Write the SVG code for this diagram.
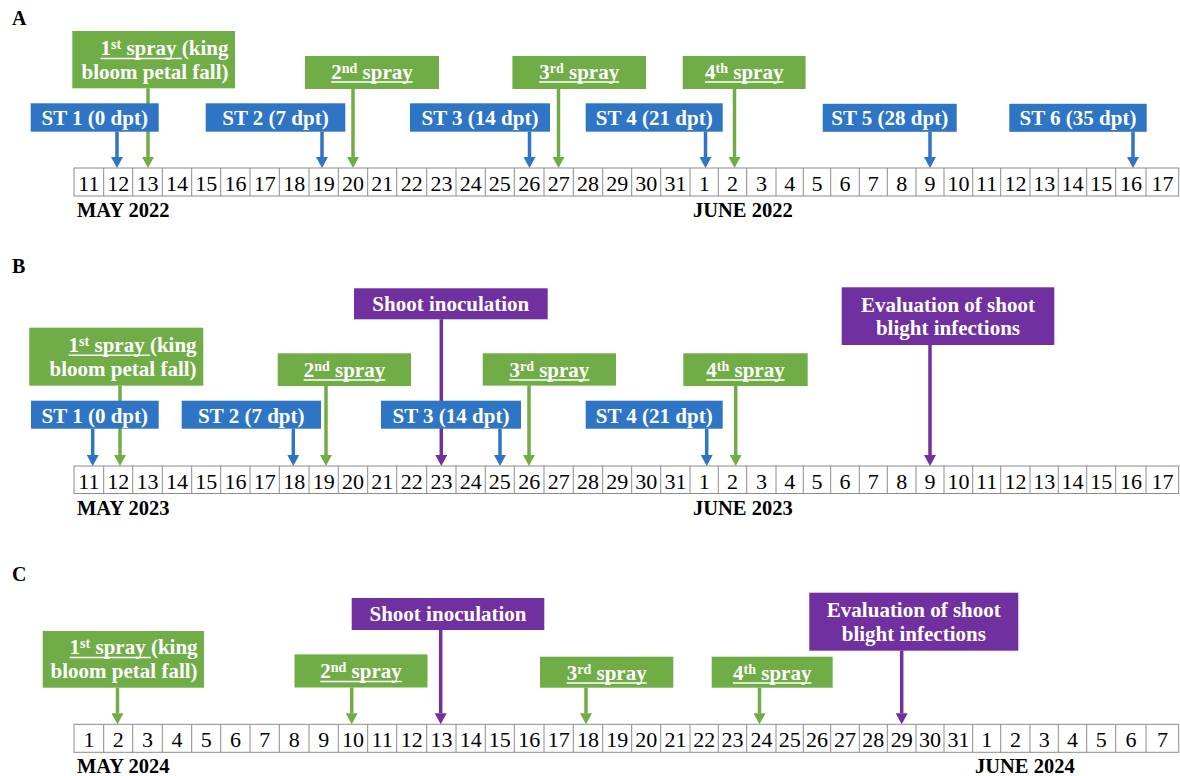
<svg xmlns="http://www.w3.org/2000/svg" width="1180" height="776" viewBox="0 0 1180 776">
<style>
.g{fill:#70AD47}.b{fill:#2E75C5}.p{fill:#7030A0}
.t{font-family:"Liberation Serif","Times New Roman",serif;font-weight:bold;font-size:21px;fill:#fff}
.sup{font-size:14px}
.ul{stroke:#fff;stroke-width:1.5}
.cg{stroke:#70AD47;stroke-width:3.5}.cb{stroke:#2E75C5;stroke-width:3.5}.cp{stroke:#7030A0;stroke-width:3.5}
.row{fill:#fff;stroke:#8c8c8c;stroke-width:1}
.grid{fill:none;stroke:#8c8c8c;stroke-width:1}
.num{font-family:"Liberation Serif","Times New Roman",serif;font-size:22px;fill:#000;text-anchor:middle}
.mon{font-family:"Liberation Serif","Times New Roman",serif;font-weight:bold;font-size:20.5px;fill:#000}
.pl{font-family:"Liberation Serif","Times New Roman",serif;font-weight:bold;font-size:20px;fill:#000}
</style>
<defs>
<marker id="ag" viewBox="0 0 11 12" refX="0" refY="6" markerWidth="11" markerHeight="12" markerUnits="userSpaceOnUse" orient="auto"><path d="M0,0 L11,6 L0,12 z" fill="#70AD47"/></marker>
<marker id="ab" viewBox="0 0 11 12" refX="0" refY="6" markerWidth="11" markerHeight="12" markerUnits="userSpaceOnUse" orient="auto"><path d="M0,0 L11,6 L0,12 z" fill="#2E75C5"/></marker>
<marker id="ap" viewBox="0 0 11 12" refX="0" refY="6" markerWidth="11" markerHeight="12" markerUnits="userSpaceOnUse" orient="auto"><path d="M0,0 L11,6 L0,12 z" fill="#7030A0"/></marker>
</defs>
<rect width="1180" height="776" fill="#fff"/>

<!-- panel labels -->
<text class="pl" x="12" y="25">A</text>
<text class="pl" x="12" y="273">B</text>
<text class="pl" x="12" y="581">C</text>

<!-- timeline rows -->
<g id="rowA">
<rect class="row" x="74" y="168" width="1104.7" height="28"/>
<path class="grid" d="M103.7 168V196M132.7 168V196M162.3 168V196M191.7 168V196M220.7 168V196M250 168V196M279.3 168V196M309 168V196M338.3 168V196M367.7 168V196M396.7 168V196M426.7 168V196M456 168V196M485.3 168V196M514.3 168V196M544 168V196M573.3 168V196M602.7 168V196M631.7 168V196M660.7 168V196M690 168V196M718.3 168V196M746.7 168V196M776 168V196M803.3 168V196M830.7 168V196M859.3 168V196M887.3 168V196M916 168V196M944 168V196M972.7 168V196M1000.7 168V196M1030 168V196M1058.3 168V196M1086.7 168V196M1115.7 168V196M1146 168V196"/>
<g class="num">
<text x="88.9" y="190.7">11</text><text x="118.2" y="190.7">12</text><text x="147.5" y="190.7">13</text><text x="177" y="190.7">14</text><text x="206.2" y="190.7">15</text><text x="235.4" y="190.7">16</text><text x="264.7" y="190.7">17</text><text x="294.2" y="190.7">18</text><text x="323.7" y="190.7">19</text><text x="353" y="190.7">20</text><text x="382.2" y="190.7">21</text><text x="411.7" y="190.7">22</text><text x="441.4" y="190.7">23</text><text x="470.7" y="190.7">24</text><text x="499.8" y="190.7">25</text><text x="529.2" y="190.7">26</text><text x="558.7" y="190.7">27</text><text x="588" y="190.7">28</text><text x="617.2" y="190.7">29</text><text x="646.2" y="190.7">30</text><text x="675.4" y="190.7">31</text><text x="704.2" y="190.7">1</text><text x="732.5" y="190.7">2</text><text x="761.4" y="190.7">3</text><text x="789.7" y="190.7">4</text><text x="817" y="190.7">5</text><text x="845" y="190.7">6</text><text x="873.3" y="190.7">7</text><text x="901.7" y="190.7">8</text><text x="930" y="190.7">9</text><text x="958.4" y="190.7">10</text><text x="986.7" y="190.7">11</text><text x="1015.4" y="190.7">12</text><text x="1044.2" y="190.7">13</text><text x="1072.5" y="190.7">14</text><text x="1101.2" y="190.7">15</text><text x="1130.9" y="190.7">16</text><text x="1162.4" y="190.7">17</text>
</g>
<text class="mon" x="77" y="217">MAY 2022</text>
<text class="mon" x="693" y="217">JUNE 2022</text>
</g>

<g id="rowB">
<rect class="row" x="74" y="466" width="1104.7" height="27.5"/>
<path class="grid" d="M103.7 466V493.5M132.7 466V493.5M162.3 466V493.5M191.7 466V493.5M220.7 466V493.5M250 466V493.5M279.3 466V493.5M309 466V493.5M338.3 466V493.5M367.7 466V493.5M396.7 466V493.5M426.7 466V493.5M456 466V493.5M485.3 466V493.5M514.3 466V493.5M544 466V493.5M573.3 466V493.5M602.7 466V493.5M631.7 466V493.5M660.7 466V493.5M690 466V493.5M718.3 466V493.5M746.7 466V493.5M776 466V493.5M803.3 466V493.5M830.7 466V493.5M859.3 466V493.5M887.3 466V493.5M916 466V493.5M944 466V493.5M972.7 466V493.5M1000.7 466V493.5M1030 466V493.5M1058.3 466V493.5M1086.7 466V493.5M1115.7 466V493.5M1146 466V493.5"/>
<g class="num">
<text x="88.9" y="488.5">11</text><text x="118.2" y="488.5">12</text><text x="147.5" y="488.5">13</text><text x="177" y="488.5">14</text><text x="206.2" y="488.5">15</text><text x="235.4" y="488.5">16</text><text x="264.7" y="488.5">17</text><text x="294.2" y="488.5">18</text><text x="323.7" y="488.5">19</text><text x="353" y="488.5">20</text><text x="382.2" y="488.5">21</text><text x="411.7" y="488.5">22</text><text x="441.4" y="488.5">23</text><text x="470.7" y="488.5">24</text><text x="499.8" y="488.5">25</text><text x="529.2" y="488.5">26</text><text x="558.7" y="488.5">27</text><text x="588" y="488.5">28</text><text x="617.2" y="488.5">29</text><text x="646.2" y="488.5">30</text><text x="675.4" y="488.5">31</text><text x="704.2" y="488.5">1</text><text x="732.5" y="488.5">2</text><text x="761.4" y="488.5">3</text><text x="789.7" y="488.5">4</text><text x="817" y="488.5">5</text><text x="845" y="488.5">6</text><text x="873.3" y="488.5">7</text><text x="901.7" y="488.5">8</text><text x="930" y="488.5">9</text><text x="958.4" y="488.5">10</text><text x="986.7" y="488.5">11</text><text x="1015.4" y="488.5">12</text><text x="1044.2" y="488.5">13</text><text x="1072.5" y="488.5">14</text><text x="1101.2" y="488.5">15</text><text x="1130.9" y="488.5">16</text><text x="1162.4" y="488.5">17</text>
</g>
<text class="mon" x="77" y="514.5">MAY 2023</text>
<text class="mon" x="693" y="514.5">JUNE 2023</text>
</g>

<g id="rowC">
<rect class="row" x="74" y="724.3" width="1104.7" height="28"/>
<path class="grid" d="M103.7 724.3V752.3M132.7 724.3V752.3M162.3 724.3V752.3M191.7 724.3V752.3M220.7 724.3V752.3M250 724.3V752.3M279.3 724.3V752.3M309 724.3V752.3M338.3 724.3V752.3M367.7 724.3V752.3M396.7 724.3V752.3M426.7 724.3V752.3M456 724.3V752.3M485.3 724.3V752.3M514.3 724.3V752.3M544 724.3V752.3M573.3 724.3V752.3M602.7 724.3V752.3M631.7 724.3V752.3M660.7 724.3V752.3M690 724.3V752.3M718.3 724.3V752.3M746.7 724.3V752.3M776 724.3V752.3M803.3 724.3V752.3M830.7 724.3V752.3M859.3 724.3V752.3M887.3 724.3V752.3M916 724.3V752.3M944 724.3V752.3M972.7 724.3V752.3M1000.7 724.3V752.3M1030 724.3V752.3M1058.3 724.3V752.3M1086.7 724.3V752.3M1115.7 724.3V752.3M1146 724.3V752.3"/>
<g class="num">
<text x="88.9" y="747">1</text><text x="118.2" y="747">2</text><text x="147.5" y="747">3</text><text x="177" y="747">4</text><text x="206.2" y="747">5</text><text x="235.4" y="747">6</text><text x="264.7" y="747">7</text><text x="294.2" y="747">8</text><text x="323.7" y="747">9</text><text x="353" y="747">10</text><text x="382.2" y="747">11</text><text x="411.7" y="747">12</text><text x="441.4" y="747">13</text><text x="470.7" y="747">14</text><text x="499.8" y="747">15</text><text x="529.2" y="747">16</text><text x="558.7" y="747">17</text><text x="588" y="747">18</text><text x="617.2" y="747">19</text><text x="646.2" y="747">20</text><text x="675.4" y="747">21</text><text x="704.2" y="747">22</text><text x="732.5" y="747">23</text><text x="761.4" y="747">24</text><text x="789.7" y="747">25</text><text x="817" y="747">26</text><text x="845" y="747">27</text><text x="873.3" y="747">28</text><text x="901.7" y="747">29</text><text x="930" y="747">30</text><text x="958.4" y="747">31</text><text x="986.7" y="747">1</text><text x="1015.4" y="747">2</text><text x="1044.2" y="747">3</text><text x="1072.5" y="747">4</text><text x="1101.2" y="747">5</text><text x="1130.9" y="747">6</text><text x="1162.4" y="747">7</text>
</g>
<text class="mon" x="77" y="773">MAY 2024</text>
<text class="mon" x="975" y="773">JUNE 2024</text>
</g>

<!-- connectors -->
<g id="connectors">
<line class="cb" x1="117" y1="131.7" x2="117" y2="157" marker-end="url(#ab)"/>
<line class="cg" x1="148" y1="88.3" x2="148" y2="157" marker-end="url(#ag)"/>
<line class="cb" x1="322" y1="131.7" x2="322" y2="157" marker-end="url(#ab)"/>
<line class="cg" x1="353" y1="89" x2="353" y2="157" marker-end="url(#ag)"/>
<line class="cb" x1="529.5" y1="131.7" x2="529.5" y2="157" marker-end="url(#ab)"/>
<line class="cg" x1="558.5" y1="89" x2="558.5" y2="157" marker-end="url(#ag)"/>
<line class="cb" x1="705.5" y1="131.7" x2="705.5" y2="157" marker-end="url(#ab)"/>
<line class="cg" x1="734.5" y1="89" x2="734.5" y2="157" marker-end="url(#ag)"/>
<line class="cb" x1="930" y1="131.7" x2="930" y2="157" marker-end="url(#ab)"/>
<line class="cb" x1="1133" y1="131.7" x2="1133" y2="157" marker-end="url(#ab)"/>

<line class="cb" x1="92.7" y1="428.7" x2="92.7" y2="455" marker-end="url(#ab)"/>
<line class="cg" x1="120" y1="385.7" x2="120" y2="455" marker-end="url(#ag)"/>
<line class="cb" x1="293.3" y1="428.7" x2="293.3" y2="455" marker-end="url(#ab)"/>
<line class="cg" x1="326" y1="386" x2="326" y2="455" marker-end="url(#ag)"/>
<line class="cp" x1="441.3" y1="319.3" x2="441.3" y2="455" marker-end="url(#ap)"/>
<line class="cb" x1="500" y1="428.7" x2="500" y2="455" marker-end="url(#ab)"/>
<line class="cg" x1="529" y1="385.3" x2="529" y2="455" marker-end="url(#ag)"/>
<line class="cb" x1="706.7" y1="428.7" x2="706.7" y2="455" marker-end="url(#ab)"/>
<line class="cg" x1="735.7" y1="386" x2="735.7" y2="455" marker-end="url(#ag)"/>
<line class="cp" x1="930" y1="345" x2="930" y2="455" marker-end="url(#ap)"/>

<line class="cg" x1="117.5" y1="687.7" x2="117.5" y2="713.3" marker-end="url(#ag)"/>
<line class="cg" x1="351.7" y1="687.5" x2="351.7" y2="713.3" marker-end="url(#ag)"/>
<line class="cp" x1="440.7" y1="630" x2="440.7" y2="713.3" marker-end="url(#ap)"/>
<line class="cg" x1="586" y1="687.7" x2="586" y2="713.3" marker-end="url(#ag)"/>
<line class="cg" x1="759.5" y1="687.7" x2="759.5" y2="713.3" marker-end="url(#ag)"/>
<line class="cp" x1="901.7" y1="650.7" x2="901.7" y2="713.3" marker-end="url(#ap)"/>
</g>

<!-- Panel A nodes -->
<g id="A_spray1">
<rect class="g" x="72.3" y="31" width="162.7" height="57.3"/>
<text class="t" x="228.5" y="55" text-anchor="end">1<tspan class="sup" dy="-6">st</tspan><tspan dy="6"> spray (king</tspan></text>
<text class="t" x="228.5" y="78.5" text-anchor="end">bloom petal fall)</text>
<line class="ul" x1="100.6" y1="58.5" x2="181.8" y2="58.5"/>
</g>
<g id="A_spray2">
<rect class="g" x="305" y="56" width="134" height="33"/>
<text class="t" x="372" y="78.5" text-anchor="middle">2<tspan class="sup" dy="-6">nd</tspan><tspan dy="6"> spray</tspan></text>
<line class="ul" x1="331.2" y1="82" x2="412.8" y2="82"/>
</g>
<g id="A_spray3">
<rect class="g" x="512.4" y="56" width="133.6" height="33"/>
<text class="t" x="579.2" y="78.5" text-anchor="middle">3<tspan class="sup" dy="-6">rd</tspan><tspan dy="6"> spray</tspan></text>
<line class="ul" x1="539.2" y1="82" x2="619.2" y2="82"/>
</g>
<g id="A_spray4">
<rect class="g" x="682.7" y="56" width="122.9" height="33"/>
<text class="t" x="744.2" y="78.5" text-anchor="middle">4<tspan class="sup" dy="-6">th</tspan><tspan dy="6"> spray</tspan></text>
<line class="ul" x1="705" y1="82" x2="783.4" y2="82"/>
</g>
<g id="A_st1"><rect class="b" x="30.7" y="103.3" width="128" height="28.4"/><text class="t" x="94.7" y="125" text-anchor="middle">ST 1 (0 dpt)</text></g>
<g id="A_st2"><rect class="b" x="205.7" y="103.3" width="139.6" height="28.4"/><text class="t" x="275.5" y="125" text-anchor="middle">ST 2 (7 dpt)</text></g>
<g id="A_st3"><rect class="b" x="410" y="103.3" width="140" height="28.4"/><text class="t" x="480" y="125" text-anchor="middle">ST 3 (14 dpt)</text></g>
<g id="A_st4"><rect class="b" x="585.7" y="103.3" width="137" height="28.4"/><text class="t" x="654.2" y="125" text-anchor="middle">ST 4 (21 dpt)</text></g>
<g id="A_st5"><rect class="b" x="822.7" y="103.8" width="134" height="28"/><text class="t" x="889.7" y="125.3" text-anchor="middle">ST 5 (28 dpt)</text></g>
<g id="A_st6"><rect class="b" x="1009.3" y="103.8" width="137.4" height="28"/><text class="t" x="1078" y="125.3" text-anchor="middle">ST 6 (35 dpt)</text></g>

<!-- Panel B nodes -->
<g id="B_spray1">
<rect class="g" x="29.3" y="327.7" width="174" height="58"/>
<text class="t" x="196.6" y="351.7" text-anchor="end">1<tspan class="sup" dy="-6">st</tspan><tspan dy="6"> spray (king</tspan></text>
<text class="t" x="196.6" y="375.7" text-anchor="end">bloom petal fall)</text>
<line class="ul" x1="68.7" y1="355.2" x2="149.9" y2="355.2"/>
</g>
<g id="B_spray2">
<rect class="g" x="277.7" y="353.3" width="133.3" height="32.7"/>
<text class="t" x="344.4" y="376.5" text-anchor="middle">2<tspan class="sup" dy="-6">nd</tspan><tspan dy="6"> spray</tspan></text>
<line class="ul" x1="303.6" y1="380" x2="385.2" y2="380"/>
</g>
<g id="B_spray3">
<rect class="g" x="482.7" y="353.3" width="133.3" height="32.3"/>
<text class="t" x="549.4" y="376.5" text-anchor="middle">3<tspan class="sup" dy="-6">rd</tspan><tspan dy="6"> spray</tspan></text>
<line class="ul" x1="509.4" y1="380" x2="589.4" y2="380"/>
</g>
<g id="B_spray4">
<rect class="g" x="683.3" y="353.3" width="124.4" height="32.7"/>
<text class="t" x="745.5" y="376.5" text-anchor="middle">4<tspan class="sup" dy="-6">th</tspan><tspan dy="6"> spray</tspan></text>
<line class="ul" x1="706.3" y1="380" x2="784.7" y2="380"/>
</g>
<g id="B_inoc"><rect class="p" x="354" y="288.3" width="193.7" height="31"/><text class="t" x="450.8" y="311" text-anchor="middle">Shoot inoculation</text></g>
<g id="B_eval">
<rect class="p" x="841.7" y="287.3" width="212.6" height="57.7"/>
<text class="t" x="948" y="311.5" text-anchor="middle">Evaluation of shoot</text>
<text class="t" x="948" y="335" text-anchor="middle">blight infections</text>
</g>
<g id="B_st1"><rect class="b" x="31" y="400.7" width="127.7" height="28"/><text class="t" x="94.8" y="422.5" text-anchor="middle">ST 1 (0 dpt)</text></g>
<g id="B_st2"><rect class="b" x="181.7" y="400.7" width="139.3" height="28"/><text class="t" x="251.3" y="422.5" text-anchor="middle">ST 2 (7 dpt)</text></g>
<g id="B_st3"><rect class="b" x="381" y="400.7" width="140" height="28"/><text class="t" x="451" y="422.5" text-anchor="middle">ST 3 (14 dpt)</text></g>
<g id="B_st4"><rect class="b" x="585.7" y="400.7" width="137" height="28"/><text class="t" x="654.2" y="422.5" text-anchor="middle">ST 4 (21 dpt)</text></g>

<!-- Panel C nodes -->
<g id="C_spray1">
<rect class="g" x="42.7" y="631" width="161.3" height="56.7"/>
<text class="t" x="197.6" y="654" text-anchor="end">1<tspan class="sup" dy="-6">st</tspan><tspan dy="6"> spray (king</tspan></text>
<text class="t" x="197.6" y="678" text-anchor="end">bloom petal fall)</text>
<line class="ul" x1="69.7" y1="657.5" x2="150.9" y2="657.5"/>
</g>
<g id="C_spray2">
<rect class="g" x="294.5" y="654.4" width="133" height="33.1"/>
<text class="t" x="361" y="678" text-anchor="middle">2<tspan class="sup" dy="-6">nd</tspan><tspan dy="6"> spray</tspan></text>
<line class="ul" x1="320.2" y1="681.5" x2="401.8" y2="681.5"/>
</g>
<g id="C_spray3">
<rect class="g" x="540" y="656.7" width="133.3" height="31"/>
<text class="t" x="606.7" y="679.5" text-anchor="middle">3<tspan class="sup" dy="-6">rd</tspan><tspan dy="6"> spray</tspan></text>
<line class="ul" x1="566.7" y1="683" x2="646.7" y2="683"/>
</g>
<g id="C_spray4">
<rect class="g" x="711.7" y="656.7" width="121" height="31"/>
<text class="t" x="772.2" y="679.5" text-anchor="middle">4<tspan class="sup" dy="-6">th</tspan><tspan dy="6"> spray</tspan></text>
<line class="ul" x1="733" y1="683" x2="811.4" y2="683"/>
</g>
<g id="C_inoc"><rect class="p" x="351.7" y="598" width="192.6" height="32"/><text class="t" x="448" y="621" text-anchor="middle">Shoot inoculation</text></g>
<g id="C_eval">
<rect class="p" x="809.3" y="592.7" width="209" height="58"/>
<text class="t" x="913.8" y="616.7" text-anchor="middle">Evaluation of shoot</text>
<text class="t" x="913.8" y="641" text-anchor="middle">blight infections</text>
</g>
</svg>
